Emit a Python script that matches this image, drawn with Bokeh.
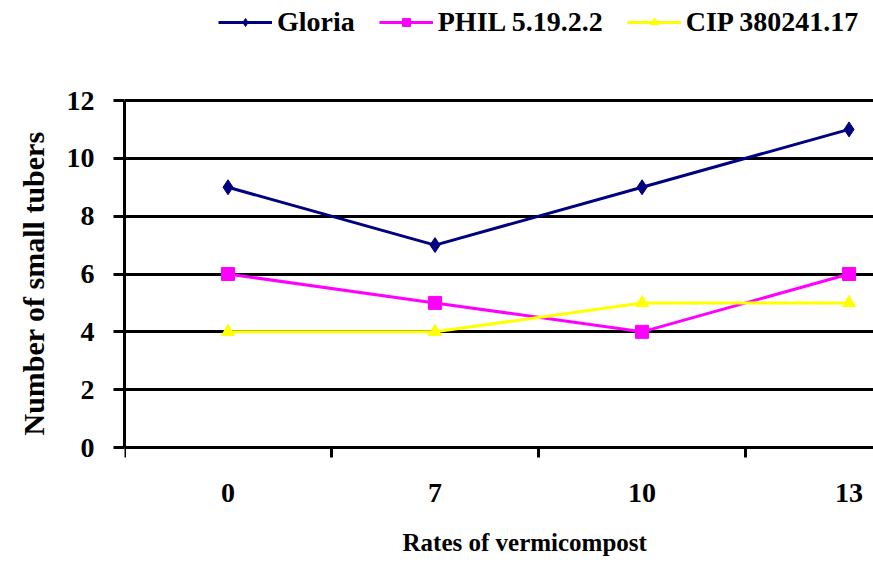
from bokeh.plotting import figure
from bokeh.models import Range1d, FixedTicker, Legend, LegendItem, Title
from bokeh.embed import file_html
from bokeh.resources import INLINE

categories = ["0", "7", "10", "13"]
gloria = [9, 7, 9, 11]
phil = [6, 5, 4, 6]
cip = [4, 4, 5, 5]
y_ticks = [0, 2, 4, 6, 8, 10, 12]
series_names = ["Gloria", "PHIL 5.19.2.2", "CIP 380241.17"]

FONT = "'Liberation Serif', 'Times New Roman', serif"
xs = list(range(len(categories)))
y_max = y_ticks[-1]

# frame spans canvas y 0..522; value 0 sits at y=447, value 12 at y=100
p = figure(width=873, height=565, output_backend="svg", toolbar_location=None,
           title=None,
           x_range=Range1d(-0.5, 3.118),
           y_range=Range1d(-y_max * 75 / 347, y_max * 447 / 347),
           min_border_left=124, min_border_right=0, min_border_top=0,
           min_border_bottom=43)
p.outline_line_color = None
p.background_fill_color = "white"
p.border_fill_color = "white"
p.xgrid.grid_line_color = None
p.ygrid.grid_line_color = "black"
p.ygrid.grid_line_width = 3
p.ygrid.ticker = FixedTicker(ticks=y_ticks)

# y axis
p.yaxis.ticker = FixedTicker(ticks=y_ticks)
p.yaxis.bounds = (0, y_max)
p.yaxis.axis_line_width = 3
p.yaxis.axis_line_color = "black"
p.yaxis.major_tick_line_width = 3
p.yaxis.major_tick_out = 11
p.yaxis.major_tick_in = 0
p.yaxis.minor_tick_line_color = None
p.yaxis.major_label_standoff = 19
p.yaxis.major_label_text_font = FONT
p.yaxis.major_label_text_font_size = "28px"
p.yaxis.major_label_text_font_style = "bold"
p.yaxis.major_label_text_color = "black"

# x axis (category centres labelled, boundaries ticked), drawn at value 0
p.xaxis.fixed_location = 0
p.xaxis.ticker = FixedTicker(ticks=xs, minor_ticks=[i - 0.5 for i in xs])
p.xaxis.major_label_overrides = {i: c for i, c in zip(xs, categories)}
p.xaxis.axis_line_width = 3
p.xaxis.axis_line_color = "black"
p.xaxis.major_tick_line_color = None
p.xaxis.major_tick_out = 0
p.xaxis.major_tick_in = 0
p.xaxis.minor_tick_line_color = "black"
p.xaxis.minor_tick_line_width = 3
p.xaxis.minor_tick_out = 10
p.xaxis.minor_tick_in = 0
p.xaxis.major_label_standoff = 26
p.xaxis.major_label_text_font = FONT
p.xaxis.major_label_text_font_size = "28px"
p.xaxis.major_label_text_font_style = "bold"
p.xaxis.major_label_text_color = "black"

colors = ["#000080", "#FF00FF", "#FFFF00"]
markers = ["diamond", "square", "triangle"]
sizes = [15, 13, 13]
items = []
for name, vals, col, mk, sz in zip(series_names, [gloria, phil, cip], colors, markers, sizes):
    l = p.line(xs, vals, line_color=col, line_width=3)
    s = p.scatter(xs, vals, marker=mk, size=sz, fill_color=col, line_color=col)
    items.append(LegendItem(label=name, renderers=[l, s]))

legend = Legend(items=items, orientation="horizontal", location=(94, 484),
                glyph_width=54, glyph_height=20, label_standoff=5, spacing=24,
                padding=0, margin=0, border_line_color=None,
                background_fill_alpha=0,
                label_text_font=FONT, label_text_font_size="28px",
                label_text_font_style="bold", label_text_color="black")
p.add_layout(legend, "center")

ytitle = Title(text="Number of small tubers", align="left", offset=87,
               text_font=FONT, text_font_size="30px", text_font_style="bold",
               text_color="black", standoff=28)
p.add_layout(ytitle, "left")

xtitle = Title(text="Rates of vermicompost", align="left", offset=278,
               text_font=FONT, text_font_size="25px", text_font_style="bold",
               text_color="black", standoff=8)
p.add_layout(xtitle, "below")

open("out.html", "w").write(file_html(p, INLINE))
